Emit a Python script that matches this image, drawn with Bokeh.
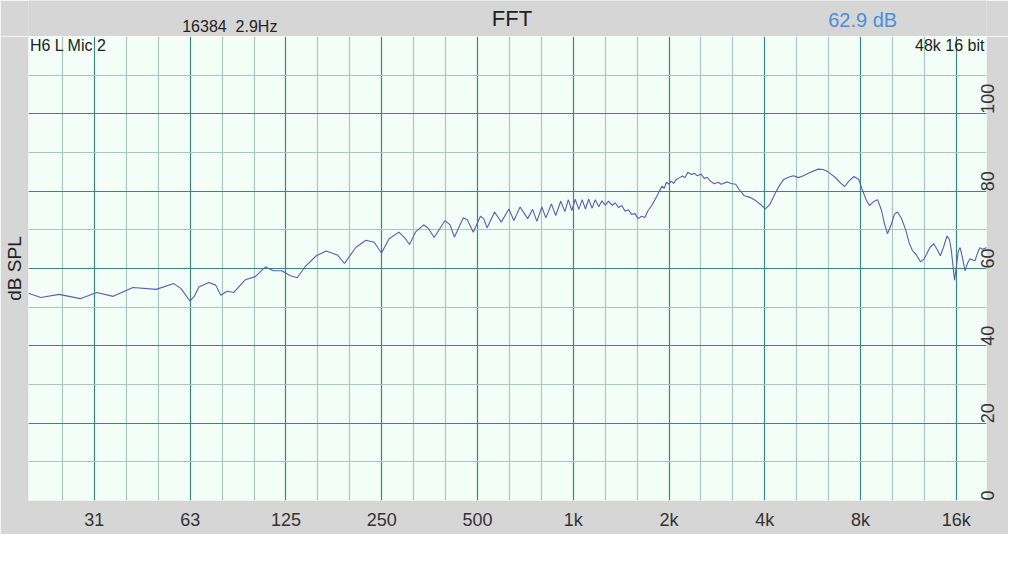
from math import pi
from bokeh.plotting import figure
from bokeh.layouts import column
from bokeh.models import FixedTicker, Grid, Label, LinearAxis
from bokeh.embed import file_html
from bokeh.resources import INLINE

freq_hz = [19.4, 21.2, 24.2, 28.2, 31.8, 35.8, 41.3, 48.9, 55.5, 58.5, 62.4, 64.3, 66.6, 71.5, 75.2,
           78.0, 81.7, 85.7, 93.2, 100.1, 107.8, 114.2, 121.3, 128.7, 135.6, 143.4, 155.7, 167.4, 182,
           190.9, 207.5, 223, 236.7, 249.6, 263.7, 283.2, 296.9, 305.7, 319.1, 338.7, 351.1, 365.5,
           395.5, 410, 423, 451.3, 464.3, 485, 510.8, 523, 535.9, 566, 593.8, 627.6, 650.7, 680.7,
           719, 745.3, 768.5, 796.7, 820.2, 853.8, 880.8, 913.3, 941.5, 964.6, 990, 1014, 1041, 1067,
           1092, 1118, 1146, 1173, 1202, 1231, 1261, 1291, 1325, 1354, 1387, 1421, 1455, 1490, 1526,
           1563, 1600, 1640, 1679, 1719, 1765, 1826, 1870, 1904, 1931, 1962, 1994, 2033, 2067, 2107,
           2158, 2205, 2244, 2290, 2352, 2403, 2455, 2521, 2582, 2637, 2695, 2774, 2854, 2916, 3050,
           3132, 3240, 3317, 3439, 3590, 3740, 3885, 4017, 4144, 4316, 4451, 4580, 4747, 4921, 5101,
           5286, 5547, 5886, 6101, 6324, 6650, 6941, 7129, 7352, 7621, 7897, 8067, 8304, 8527, 8796,
           9050, 9311, 9514, 9720, 10000, 10220, 10440, 10750, 11090, 11380, 11630, 11980, 12350,
           12680, 12950, 13230, 13590, 13910, 14250, 14580, 14950, 15220, 15410, 15600, 15790, 16000,
           16230, 16440, 16700, 17040, 17370, 17660, 18010, 18300, 18660, 18970, 19340, 19910]
spl_db = [53.6, 52.5, 53.3, 52.2, 53.8, 52.8, 55.1, 54.6, 56.1, 54.8, 51.6, 52.7, 55.2, 56.4, 55.7,
          53.1, 54.1, 53.8, 57.1, 57.9, 60.4, 59.4, 59.4, 58.2, 57.6, 60.4, 63.3, 64.5, 63.4,
          61.3, 65.5, 67.3, 66.8, 64.0, 67.7, 69.4, 67.7, 66.2, 69.4, 71.3, 70.3, 68.0,
          72.4, 71.3, 68.1, 73.1, 72.6, 69.4, 73.5, 72.9, 70.5, 74.6, 72.0, 75.4, 72.4, 75.9,
          72.9, 75.3, 72.2, 75.9, 73.1, 76.7, 73.7, 77.4, 74.7, 77.8, 75.0, 77.9, 75.3, 77.8,
          75.4, 77.9, 75.6, 77.8, 76.0, 77.5, 76.4, 77.4, 76.3, 77.0, 75.8, 76.3, 74.8, 75.2, 74.0,
          74.2, 72.9, 73.5, 73.2, 75.0, 76.3, 78.5, 80.2, 81.3, 80.7, 82.3, 81.8, 82.6, 82.0, 83.0,
          83.5, 83.9, 83.5, 84.9, 84.3, 84.6, 84.0, 84.4, 83.3, 83.6, 82.6, 81.9, 82.3, 81.8, 82.4,
          82.0, 81.8, 80.5, 78.9, 78.4, 77.6, 76.5, 75.4, 76.5, 79.5, 81.5, 83.0, 83.6, 84.0, 83.5,
          84.0, 84.8, 85.7, 85.6, 85.0, 83.6, 82.0, 81.2, 82.6, 83.8, 83.0, 80.8, 78.0, 76.3, 77.3,
          77.8, 75.0, 71.5, 69.0, 71.5, 74.0, 74.6, 73.0, 70.0, 66.5, 64.7, 63.5, 61.7,
          62.5, 64.0, 65.5, 66.4, 65.0, 63.3, 65.5, 68.4, 67.5, 65.0, 61.0, 57.0, 60.5,
          64.5, 65.4, 63.0, 59.4, 61.5, 62.5, 62.2, 62.0, 64.0, 65.4, 65.0, 65.4]

x_tick_values = [31.25, 62.5, 125, 250, 500, 1000, 2000, 4000, 8000, 16000]
x_tick_labels = ["31", "63", "125", "250", "500", "1k", "2k", "4k", "8k", "16k"]
y_tick_values = [0, 20, 40, 60, 80, 100]
y_minor_values = [10, 30, 50, 70, 90, 110]

FONT = "Liberation Sans"
DARK = "#3a877d"
LIGHT = "#a9c6c0"
GRAY = "#d6d6d6"
LEFT_B = 27
RIGHT_B = 22
W = 1008

# header strip (title texts); its frame is aligned with the main frame
head = figure(width=W, height=36, x_range=(LEFT_B, W - RIGHT_B), y_range=(0, 36),
              output_backend="svg", toolbar_location=None, title=None,
              x_axis_location=None, y_axis_location=None,
              min_border_left=0, min_border_right=0, min_border_top=0, min_border_bottom=0)
head.background_fill_color = GRAY
head.border_fill_color = GRAY
head.outline_line_color = None
head.xgrid.visible = False
head.ygrid.visible = False

def hlab(x, y, text, size, color="#222222"):
    head.add_layout(Label(x=x, y=y, text=text, text_align="center", text_baseline="middle",
                          text_font=FONT, text_font_size=size, text_color=color))

hlab(511, 18, "FFT", "22px")
hlab(228.5, 10, "16384\u00a0\u00a02.9Hz", "16px")
hlab(862, 17, "62.9 dB", "20px", color="#4a8fd8")

# main plot
p = figure(width=W, height=498, x_axis_type="log", x_range=(19.4, 19900), y_range=(0, 120),
           output_backend="svg", toolbar_location=None, y_axis_location="right", title=None,
           min_border_left=LEFT_B, min_border_right=RIGHT_B, min_border_top=0, min_border_bottom=34)
p.background_fill_color = "#f3fef8"
p.border_fill_color = GRAY
p.outline_line_color = None
p.xgrid.visible = False
p.ygrid.visible = False

third_oct = [1000 * 2 ** (k / 3) for k in range(-16, 14) if k % 3 != 0]
octs = [1000 * 2 ** k for k in range(-5, 5)]
p.add_layout(Grid(dimension=0, ticker=FixedTicker(ticks=third_oct), grid_line_color=LIGHT, grid_line_width=1.2))
p.add_layout(Grid(dimension=0, ticker=FixedTicker(ticks=octs), grid_line_color=DARK, grid_line_width=1.2))
p.add_layout(Grid(dimension=1, ticker=FixedTicker(ticks=y_minor_values), grid_line_color=LIGHT, grid_line_width=1.2))
p.add_layout(Grid(dimension=1, ticker=FixedTicker(ticks=y_tick_values), grid_line_color=DARK, grid_line_width=1.2))

p.line(freq_hz, spl_db, line_color="#5a5fae", line_width=1.1)

xa = p.xaxis[0]
xa.ticker = FixedTicker(ticks=x_tick_values)
xa.major_label_overrides = {v: s for v, s in zip(x_tick_values, x_tick_labels)}
ya = p.yaxis[0]
ya.ticker = FixedTicker(ticks=y_tick_values)
ya.major_label_orientation = pi / 2
for ax in (xa, ya):
    ax.axis_line_color = None
    ax.major_tick_line_color = None
    ax.minor_tick_line_color = None
    ax.major_tick_out = 0
    ax.major_tick_in = 0
    ax.major_label_text_font = FONT
    ax.major_label_text_font_size = "18px"
    ax.major_label_text_color = "#333333"
xa.major_label_standoff = 9
ya.major_label_standoff = 1

left_ax = LinearAxis(ticker=FixedTicker(ticks=[]), axis_label="dB SPL",
                     axis_line_color=None, major_tick_line_color=None, minor_tick_line_color=None,
                     major_tick_out=0, major_tick_in=0, major_label_standoff=0,
                     axis_label_standoff=4, axis_label_text_font=FONT,
                     axis_label_text_font_size="19px", axis_label_text_font_style="normal",
                     axis_label_text_color="#222222")
p.add_layout(left_ax, "left")

p.add_layout(Label(x=19.6, y=117.7, text="H6 L Mic 2", text_align="left", text_baseline="middle",
                   text_font=FONT, text_font_size="16px", text_color="#222222"))
p.add_layout(Label(x=19600, y=117.7, text="48k 16 bit", text_align="right", text_baseline="middle",
                   text_font=FONT, text_font_size="16px", text_color="#222222"))

layout = column(head, p, spacing=0)
open("out.html", "w").write(file_html(layout, INLINE))
